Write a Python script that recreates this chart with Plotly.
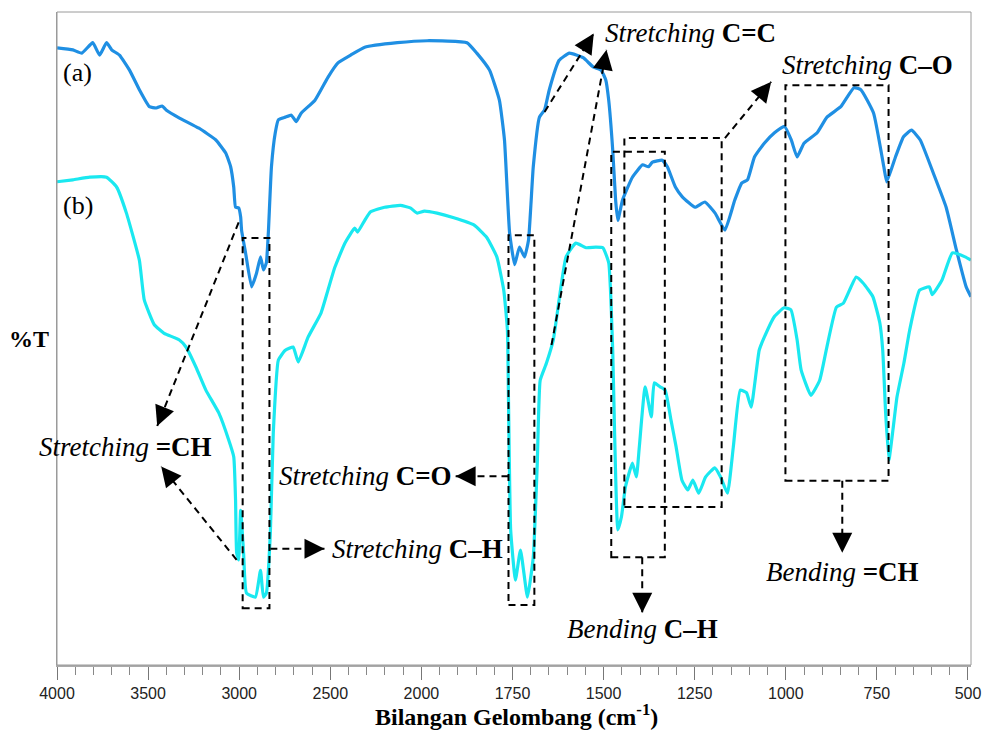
import plotly.graph_objects as go

# ---------------- data (wavenumber cm-1, %T) ----------------
wn_a = [4000, 3913, 3864, 3804, 3766, 3728, 3700, 3657, 3602, 3548, 3493, 3455, 3423, 3401,
        3330, 3221, 3128, 3074, 3047, 3030, 3020, 3003, 2992, 2987, 2965, 2932, 2905, 2883,
        2867, 2851, 2840, 2823, 2802, 2785, 2747, 2714, 2687, 2660, 2584, 2513, 2458, 2388,
        2311, 2132, 1984, 1875, 1848, 1813, 1786, 1772, 1758, 1744, 1731, 1717, 1706, 1693,
        1676, 1662, 1649, 1622, 1594, 1556, 1529, 1507, 1494, 1486, 1475, 1467, 1461, 1448,
        1421, 1393, 1377, 1366, 1339, 1325, 1303, 1284, 1249, 1222, 1194, 1167, 1140, 1121,
        1105, 1086, 1059, 1031, 1004, 985, 969, 950, 914, 887, 849, 813, 794, 759, 731, 723,
        699, 677, 655, 631, 595, 560, 532, 505, 492]
T_a = [94.5, 94.2, 93.7, 95.3, 93.4, 95.3, 94.2, 93.4, 91.1, 88.1, 85.5, 85.3, 85.6, 85.0,
       83.8, 82.2, 80.4, 78.4, 76.3, 73.2, 70.1, 70.0, 68.6, 66.6, 63.1, 57.9, 60.0, 62.5,
       60.5, 61.6, 66.2, 76.3, 81.5, 83.5, 83.9, 84.2, 83.2, 84.5, 86.5, 90.0, 92.2, 93.4,
       94.6, 95.3, 95.6, 95.3, 93.7, 91.1, 86.5, 80.4, 66.2, 61.3, 64.0, 62.5, 65.1, 76.3,
       83.9, 85.0, 88.1, 92.6, 93.7, 93.0, 91.6, 91.1, 89.6, 86.5, 78.9, 71.2, 68.1, 71.2,
       74.7, 76.6, 76.3, 77.0, 77.3, 76.3, 73.2, 71.7, 70.1, 70.9, 69.2, 66.6, 71.2, 73.8,
       74.3, 77.8, 79.9, 81.5, 82.5, 80.4, 77.8, 79.9, 81.5, 83.9, 85.5, 88.4, 88.1, 84.5, 76.3, 74.0,
       77.8, 80.9, 81.9, 80.4, 75.3, 70.1, 63.6, 57.9, 56.4]

wn_b = [4000, 3913, 3820, 3728, 3673, 3619, 3548, 3521, 3466, 3412, 3330, 3292, 3237, 3183,
        3112, 3058, 3030, 3020, 3014, 3003, 2992, 2976, 2960, 2911, 2883, 2867, 2851, 2829,
        2813, 2785, 2747, 2704, 2676, 2622, 2551, 2513, 2475, 2420, 2366, 2350, 2311, 2279,
        2202, 2115, 2061, 2023, 1992, 1957, 1911, 1856, 1821, 1793, 1774, 1764, 1761, 1755,
        1742, 1728, 1709, 1693, 1682, 1674, 1657, 1638, 1603, 1576, 1548, 1521, 1502, 1486,
        1475, 1470, 1461, 1451, 1440, 1421, 1410, 1402, 1386, 1369, 1361, 1345, 1331, 1315,
        1301, 1285, 1269, 1255, 1239, 1220, 1195, 1179, 1160, 1144, 1125, 1108, 1095, 1073,
        1059, 1032, 1005, 986, 969, 958, 931, 907, 888, 861, 842, 807, 788, 761, 742, 734,
        726, 717, 706, 695, 676, 660, 633, 606, 598, 571, 543, 508, 492]
T_b = [74.0, 74.3, 74.7, 74.7, 73.2, 69.2, 62.0, 55.9, 52.1, 50.8, 49.8, 48.7, 45.6, 42.1,
       38.6, 34.5, 31.9, 25.3, 17.2, 16.1, 23.7, 17.2, 11.0, 10.4, 14.5, 10.4, 11.0, 20.2,
       35.5, 46.7, 48.2, 48.7, 46.4, 50.2, 53.9, 57.4, 60.9, 64.6, 66.9, 66.3, 68.1, 69.4,
       70.1, 70.4, 70.0, 69.2, 69.5, 69.2, 68.5, 67.4, 65.5, 62.5, 57.4, 51.3, 40.6, 20.7,
       13.0, 17.6, 10.4, 16.5, 30.9, 43.6, 46.2, 49.8, 62.5, 64.6, 63.9, 64.0, 63.9, 61.6,
       48.2, 36.0, 20.7, 22.7, 27.3, 30.9, 28.8, 33.4, 42.6, 38.0, 43.2, 42.6, 42.1, 37.5,
       33.4, 28.3, 26.8, 28.3, 26.3, 28.8, 30.2, 28.8, 26.3, 33.4, 42.1, 41.7, 39.5, 48.2,
       50.2, 53.3, 54.7, 54.4, 49.8, 45.2, 41.3, 43.6, 48.5, 54.8, 55.4, 59.4, 58.5, 56.4, 52.4, 48.2,
       38.6, 31.4, 36.0, 41.0, 46.2, 51.3, 57.4, 57.9, 56.7, 59.0, 63.1, 62.5, 62.0]

tick_wn = [4000, 3500, 3000, 2500, 2000, 1750, 1500, 1250, 1000, 750, 500]


# split abscissa: 500 cm-1 per unit above 2000, 250 cm-1 per unit below
def pos(w):
    return (4000 - w) / 500 if w >= 2000 else 4 + (2000 - w) / 250


X_RANGE = [0, 10.033]
Y_RANGE = [0, 100]
W, H = 993, 731
ML, MR, MT, MB = 57, 15, 12, 66
PW, PH = W - ML - MR, H - MT - MB
PX_X = PW / (X_RANGE[1] - X_RANGE[0])
PX_Y = PH / (Y_RANGE[1] - Y_RANGE[0])

C_A = "#1f8fe3"
C_B = "#1ae8f0"
SERIF = "Liberation Serif, Times New Roman, serif"

fig = go.Figure()
fig.add_trace(go.Scatter(x=[pos(w) for w in wn_a], y=T_a, mode="lines",
                         line=dict(color=C_A, width=3.2, shape="spline", smoothing=0.4),
                         showlegend=False, hoverinfo="skip"))
fig.add_trace(go.Scatter(x=[pos(w) for w in wn_b], y=T_b, mode="lines",
                         line=dict(color=C_B, width=3.2, shape="spline", smoothing=0.4),
                         showlegend=False, hoverinfo="skip"))

DASH = "7px,5px"

# dashed boxes (wn_left, wn_right, T_top, T_bottom)
boxes = [(2981, 2834, 65.4, 8.7),
         (1761, 1690, 65.8, 9.2),
         (1479, 1332, 78.6, 16.5),
         (1443, 1176, 80.7, 24.2),
         (1001, 718, 88.8, 28.2)]
for wl, wr, tt, tb in boxes:
    fig.add_shape(type="rect", x0=pos(wl), x1=pos(wr), y0=tb, y1=tt,
                  line=dict(color="black", width=2, dash=DASH), layer="above")

# dashed arrows (start wn, start T, tip wn, tip T)
arrows = [(3003, 67.8, 3450, 36.6),
          (3014, 16.1, 3428, 30.4),
          (2829, 17.8, 2532, 17.8),
          (1761, 28.9, 1906, 28.9),
          (1662, 84.7, 1527, 96.7),
          (1643, 49.0, 1492, 94.2),
          (1167, 80.7, 1040, 89.3),
          (1394, 16.5, 1394, 8.0),
          (845, 28.2, 845, 17.2)]
for ws, ts, wt, tt in arrows:
    xs, xt = pos(ws), pos(wt)
    fig.add_shape(type="line", x0=xs, y0=ts, x1=xt, y1=tt,
                  line=dict(color="black", width=2, dash=DASH), layer="above")
    dxp, dyp = (xs - xt) * PX_X, (ts - tt) * PX_Y
    L = (dxp ** 2 + dyp ** 2) ** 0.5
    f = 20 / L
    fig.add_annotation(x=xt, y=tt, ax=xt + (xs - xt) * f, ay=tt + (ts - tt) * f,
                       axref="x", ayref="y", xref="x", yref="y", text="",
                       showarrow=True, arrowhead=2, arrowsize=2.0, arrowwidth=2,
                       arrowcolor="black", standoff=0)

# labels (text, wn, T, xanchor, size)
labels = [("<i>Stretching</i> <b>=CH</b>", 3624, 33.4, "center", 27),
          ("<i>Stretching</i> <b>C–H</b>", 2502, 17.8, "left", 27),
          ("<i>Stretching</i> <b>C=O</b>", 1911, 28.9, "right", 27),
          ("<i>Stretching</i> <b>C=C</b>", 1502, 96.8, "left", 27),
          ("<i>Stretching</i> <b>C–O</b>", 1016, 91.9, "left", 27),
          ("<i>Bending</i> <b>C–H</b>", 1394, 5.5, "center", 27),
          ("<i>Bending</i> <b>=CH</b>", 845, 14.2, "center", 27),
          ("(a)", 3886, 90.8, "center", 26),
          ("(b)", 3886, 70.3, "center", 26)]
for txt, w, t, xa, sz in labels:
    fig.add_annotation(x=pos(w), y=t, xref="x", yref="y", text=txt, showarrow=False,
                       xanchor=xa, yanchor="middle",
                       font=dict(family=SERIF, size=sz, color="black"))

fig.add_annotation(x=-0.0304, y=0.499, xref="paper", yref="paper", text="<b>%T</b>",
                   showarrow=False, xanchor="center", yanchor="middle",
                   font=dict(family=SERIF, size=24, color="black"))
fig.add_annotation(x=0.503, y=-0.076, xref="paper", yref="paper",
                   text="<b>Bilangan Gelombang (cm<sup>-1</sup>)</b>",
                   showarrow=False, xanchor="center", yanchor="middle",
                   font=dict(family=SERIF, size=24, color="black"))

# plot frame
fig.add_shape(type="rect", xref="paper", yref="paper", x0=0, x1=1, y0=0, y1=1,
              line=dict(color="#9a9a9a", width=1), layer="above")

minor_vals = [i * 0.2 for i in range(51) if i % 5 != 0]
fig.update_layout(
    width=W, height=H, margin=dict(l=ML, r=MR, t=MT, b=MB),
    paper_bgcolor="white", plot_bgcolor="white", showlegend=False,
    xaxis=dict(range=X_RANGE, tickmode="array", tickvals=[pos(w) for w in tick_wn],
               ticktext=[str(w) for w in tick_wn], ticks="outside", ticklen=13,
               tickcolor="#777", tickwidth=1, showgrid=False, zeroline=False,
               showline=True, linecolor="#aaaaaa", linewidth=2,
               tickfont=dict(family="Liberation Sans, Arial, sans-serif", size=16, color="#222"),
               minor=dict(tickmode="array", tickvals=minor_vals, ticks="outside",
                          ticklen=8, tickcolor="#888", showgrid=False)),
    yaxis=dict(range=Y_RANGE, showticklabels=False, ticks="", showgrid=False,
               zeroline=False, showline=True, linecolor="#999", linewidth=1),
)

fig.write_html("out.html")
